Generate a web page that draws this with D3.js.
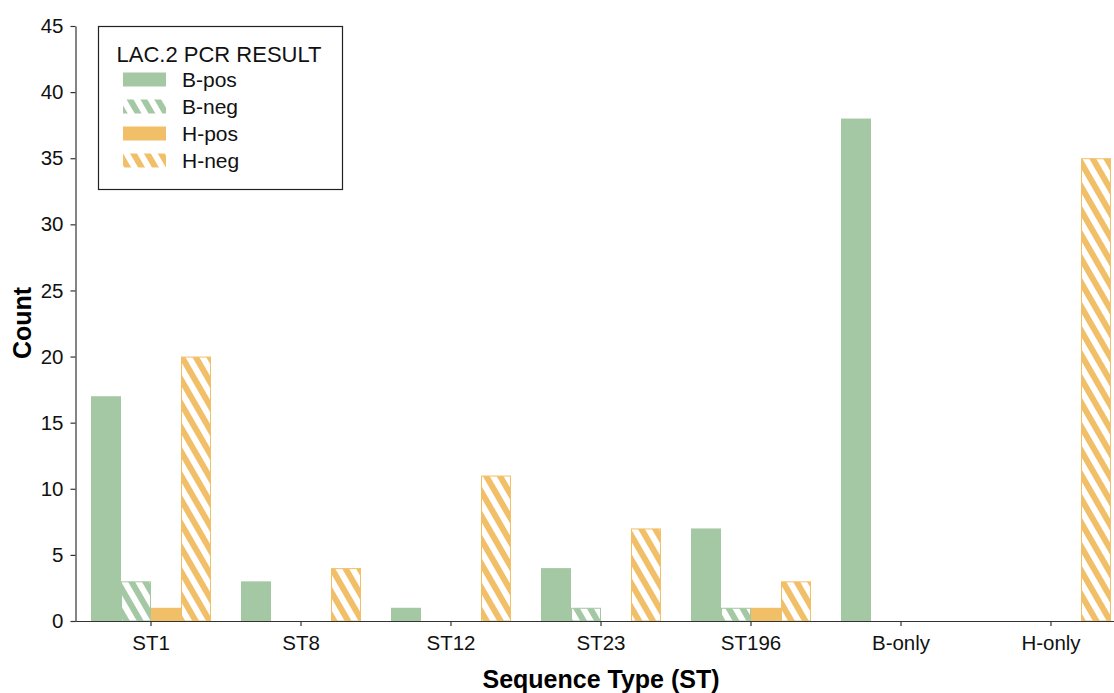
<!DOCTYPE html>
<html>
<head>
<meta charset="utf-8">
<script src="https://cdn.jsdelivr.net/npm/d3@7"></script>
<style>
  body { margin: 0; background: #fff; }
  svg { display: block; font-family: "Liberation Sans", Arial, sans-serif; }
</style>
</head>
<body>
<svg id="chart" width="1114" height="693"></svg>
<script>
// data
const categories = ["ST1", "ST8", "ST12", "ST23", "ST196", "B-only", "H-only"];
const seriesNames = ["B-pos", "B-neg", "H-pos", "H-neg"];
const bPos = [17, 3, 1, 4, 7, 38, 0];
const bNeg = [3, 0, 0, 1, 1, 0, 0];
const hPos = [1, 0, 0, 0, 1, 0, 0];
const hNeg = [20, 4, 11, 7, 3, 0, 35];
const yTicks = [0, 5, 10, 15, 20, 25, 30, 35, 40, 45];

const green = "#a3c8a3", orange = "#f2bf69";
const seriesStyle = {
  "B-pos": {color: green, hatch: false},
  "B-neg": {color: green, hatch: true},
  "H-pos": {color: orange, hatch: false},
  "H-neg": {color: orange, hatch: true}
};
const seriesVals = {"B-pos": bPos, "B-neg": bNeg, "H-pos": hPos, "H-neg": hNeg};

const svg = d3.select("#chart");
const margin = {left: 76, top: 26, bottom: 72};
const plotH = 693 - margin.bottom - margin.top;

// hatch patterns
const defs = svg.append("defs");
[["hatch-green", green], ["hatch-orange", orange]].forEach(([id, c]) => {
  const p = defs.append("pattern").attr("id", id)
    .attr("patternUnits", "userSpaceOnUse")
    .attr("width", 12).attr("height", 12)
    .attr("patternTransform", "rotate(-30)");
  p.append("rect").attr("width", 12).attr("height", 12).attr("fill", "#fff");
  p.append("rect").attr("width", 6).attr("height", 12).attr("fill", c);
});
const fillOf = s => seriesStyle[s].hatch
  ? (seriesStyle[s].color === green ? "url(#hatch-green)" : "url(#hatch-orange)")
  : seriesStyle[s].color;

const x = d3.scaleBand().domain(categories).range([margin.left, margin.left + 150 * categories.length]);
const xs = d3.scaleBand().domain(seriesNames).range([15, 135]);
const y = d3.scaleLinear().domain([0, 45]).range([margin.top + plotH, margin.top]);

const rows = [];
categories.forEach((c, i) => seriesNames.forEach(s => {
  if (seriesVals[s][i] > 0) rows.push({cat: c, s, v: seriesVals[s][i]});
}));

svg.append("g").selectAll("rect").data(rows).join("rect")
  .attr("x", d => x(d.cat) + xs(d.s) + (seriesStyle[d.s].hatch ? 0.5 : 0))
  .attr("width", d => xs.bandwidth() - (seriesStyle[d.s].hatch ? 1 : 0))
  .attr("y", d => y(d.v) + (seriesStyle[d.s].hatch ? 0.5 : 0))
  .attr("height", d => y(0) - y(d.v) - (seriesStyle[d.s].hatch ? 0.5 : 0))
  .attr("fill", d => fillOf(d.s))
  .attr("stroke", d => seriesStyle[d.s].hatch ? seriesStyle[d.s].color : "none")
  .attr("stroke-width", 1);

// axes
const xAxis = svg.append("g").attr("transform", `translate(0,${y(0)})`)
  .call(d3.axisBottom(x).tickSizeOuter(0).tickSize(5).tickPadding(9));
xAxis.select(".domain").attr("d", `M${margin.left - 0.5},0.5H1114`);
const yAxis = svg.append("g").attr("transform", `translate(${margin.left - 0.5},0)`)
  .call(d3.axisLeft(y).tickValues(yTicks).tickSize(5).tickSizeOuter(0).tickPadding(7));

[xAxis, yAxis].forEach(a => {
  a.select(".domain").attr("stroke", "#333").attr("stroke-width", 1.2);
  a.selectAll(".tick line").attr("stroke", "#333").attr("stroke-width", 1.2);
  a.selectAll(".tick text").attr("font-size", 20.5).attr("fill", "#111")
    .attr("font-family", "'Liberation Sans', Arial, sans-serif");
});

svg.append("text").attr("x", 601).attr("y", 688).attr("text-anchor", "middle")
  .attr("font-size", 25).attr("font-weight", "bold").text("Sequence Type (ST)");
svg.append("text").attr("transform", "translate(31,323) rotate(-90)").attr("text-anchor", "middle")
  .attr("font-size", 25).attr("font-weight", "bold").text("Count");

// legend
const lg = svg.append("g").attr("transform", "translate(98,26)");
lg.append("rect").attr("x", 0.5).attr("y", 0.5).attr("width", 244).attr("height", 163)
  .attr("fill", "#fff").attr("stroke", "#222").attr("stroke-width", 1.2);
lg.append("text").attr("x", 121).attr("y", 36).attr("text-anchor", "middle")
  .attr("font-size", 22).attr("fill", "#111").text("LAC.2 PCR RESULT");
seriesNames.forEach((s, i) => {
  const yy = 53.5 + i * 27;
  lg.append("rect").attr("x", 25).attr("y", yy - 7).attr("width", 43).attr("height", 14)
    .attr("fill", fillOf(s));
  lg.append("text").attr("x", 84).attr("y", yy + 7.5)
    .attr("font-size", 21).attr("fill", "#111").text(s);
});
</script>
</body>
</html>
